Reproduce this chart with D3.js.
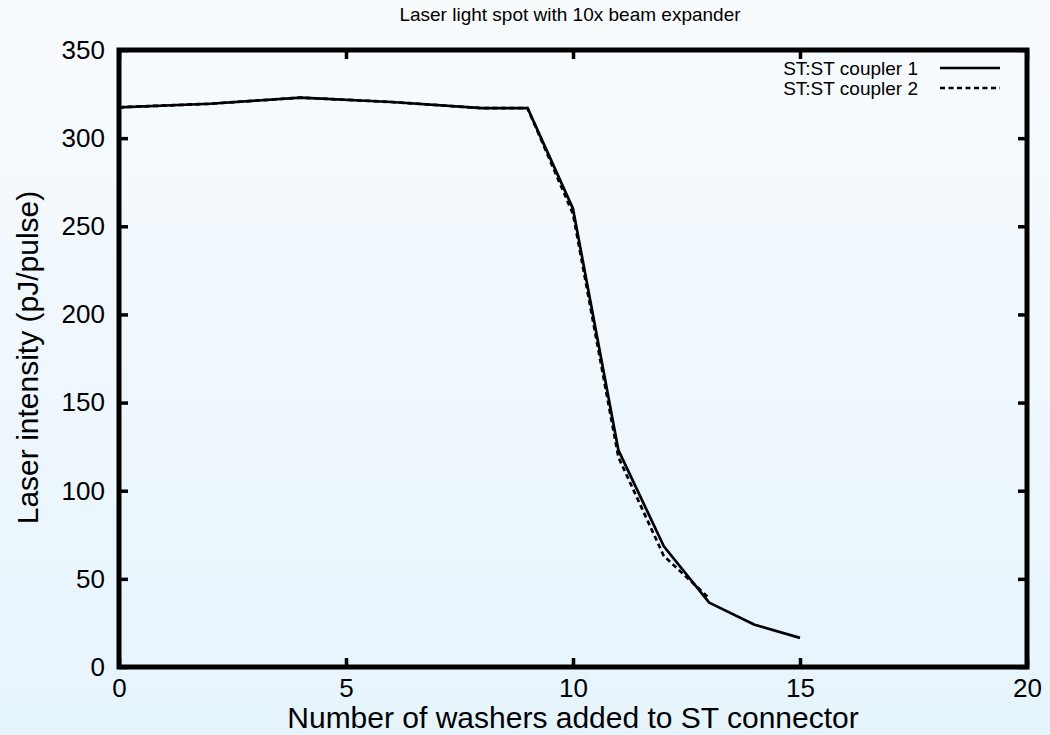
<!DOCTYPE html>
<html><head><meta charset="utf-8">
<script src="https://cdn.jsdelivr.net/npm/d3@7"></script>
<style>html,body{margin:0;padding:0;}svg{display:block;}</style>
</head><body>
<script>
const title = "Laser light spot with 10x beam expander";
const xLabel = "Number of washers added to ST connector";
const yLabel = "Laser intensity (pJ/pulse)";
const seriesNames = ["ST:ST coupler 1", "ST:ST coupler 2"];
const x1 = [0, 2, 4, 6, 8, 9, 10, 11, 12, 13, 14, 15];
const y1 = [317.5, 319.5, 323, 320.5, 317, 317, 260, 123, 68.5, 36.5, 24, 16.5];
const x2 = [0, 2, 4, 6, 8, 9, 10, 11, 12, 13];
const y2 = [317.5, 319.5, 323, 320.5, 317, 317, 257, 119, 63, 39];
const xTicks = [0, 5, 10, 15, 20];
const yTicks = [0, 50, 100, 150, 200, 250, 300, 350];

const W = 1050, H = 735;
const L = 119, R = 1027, T = 50, B = 667;
const svg = d3.select("body").append("svg").attr("width", W).attr("height", H);
const defs = svg.append("defs");
const g = defs.append("linearGradient").attr("id","bg").attr("x1",0).attr("y1",0).attr("x2",0).attr("y2",1);
g.append("stop").attr("offset","0%").attr("stop-color","#f8fbfe");
g.append("stop").attr("offset","100%").attr("stop-color","#e6f4fc");
svg.append("rect").attr("width",W).attr("height",H).attr("fill","url(#bg)");

const x = d3.scaleLinear().domain([0,20]).range([L,R]);
const y = d3.scaleLinear().domain([0,350]).range([B,T]);
const font = "'Liberation Sans', Arial, sans-serif";

// ticks (inside, mirrored)
const tk = 9;
const axB = d3.axisBottom(x).tickValues(xTicks).tickSize(-tk).tickSizeOuter(0).tickPadding(12).tickFormat(d3.format("d"));
const axT = d3.axisTop(x).tickValues(xTicks).tickSize(-tk).tickSizeOuter(0).tickFormat("");
const axL = d3.axisLeft(y).tickValues(yTicks).tickSize(-tk).tickSizeOuter(0).tickPadding(14).tickFormat(d3.format("d"));
const axR = d3.axisRight(y).tickValues(yTicks).tickSize(-tk).tickSizeOuter(0).tickFormat("");
function style(sel){
  sel.select(".domain").remove();
  sel.selectAll(".tick line").attr("stroke","#000").attr("stroke-width",3.5);
  sel.selectAll(".tick text").attr("fill","#000").style("font-family",font).style("font-size","26px");
}
svg.append("g").attr("transform",`translate(0,${B})`).call(axB).call(style);
svg.append("g").attr("transform",`translate(0,${T})`).call(axT).call(style);
svg.append("g").attr("transform",`translate(${L},0)`).call(axL).call(style);
svg.append("g").attr("transform",`translate(${R},0)`).call(axR).call(style);

// data lines
const line = d3.line().x(d=>x(d[0])).y(d=>y(d[1]));
svg.append("path").datum(x2.map((v,i)=>[v,y2[i]])).attr("d",line)
  .attr("fill","none").attr("stroke","#000").attr("stroke-width",2.7).attr("stroke-dasharray","5,3.5");
svg.append("path").datum(x1.map((v,i)=>[v,y1[i]])).attr("d",line)
  .attr("fill","none").attr("stroke","#000").attr("stroke-width",2.7).attr("stroke-linejoin","round");

// frame
svg.append("rect").attr("x",L).attr("y",T).attr("width",R-L).attr("height",B-T)
  .attr("fill","none").attr("stroke","#000").attr("stroke-width",5);

// legend
const legY = [68, 88];
seriesNames.forEach((n,i)=>{
  svg.append("text").attr("x",918).attr("y",legY[i]).attr("dy","0.35em").attr("text-anchor","end")
    .style("font-family",font).style("font-size","19px").text(n);
  svg.append("line").attr("x1",940).attr("x2",1000).attr("y1",legY[i]).attr("y2",legY[i])
    .attr("stroke","#000").attr("stroke-width",2.7).attr("stroke-dasharray", i===1 ? "5,3.5" : null);
});

// titles
svg.append("text").attr("x",570).attr("y",14).attr("dy","0.35em").attr("text-anchor","middle")
  .style("font-family",font).style("font-size","19px").text(title);
svg.append("text").attr("x",573).attr("y",728).attr("text-anchor","middle")
  .style("font-family",font).style("font-size","30px").text(xLabel);
svg.append("text").attr("transform","translate(37.5,357.5) rotate(-90)").attr("text-anchor","middle")
  .style("font-family",font).style("font-size","30px").text(yLabel);
</script>
</body></html>
